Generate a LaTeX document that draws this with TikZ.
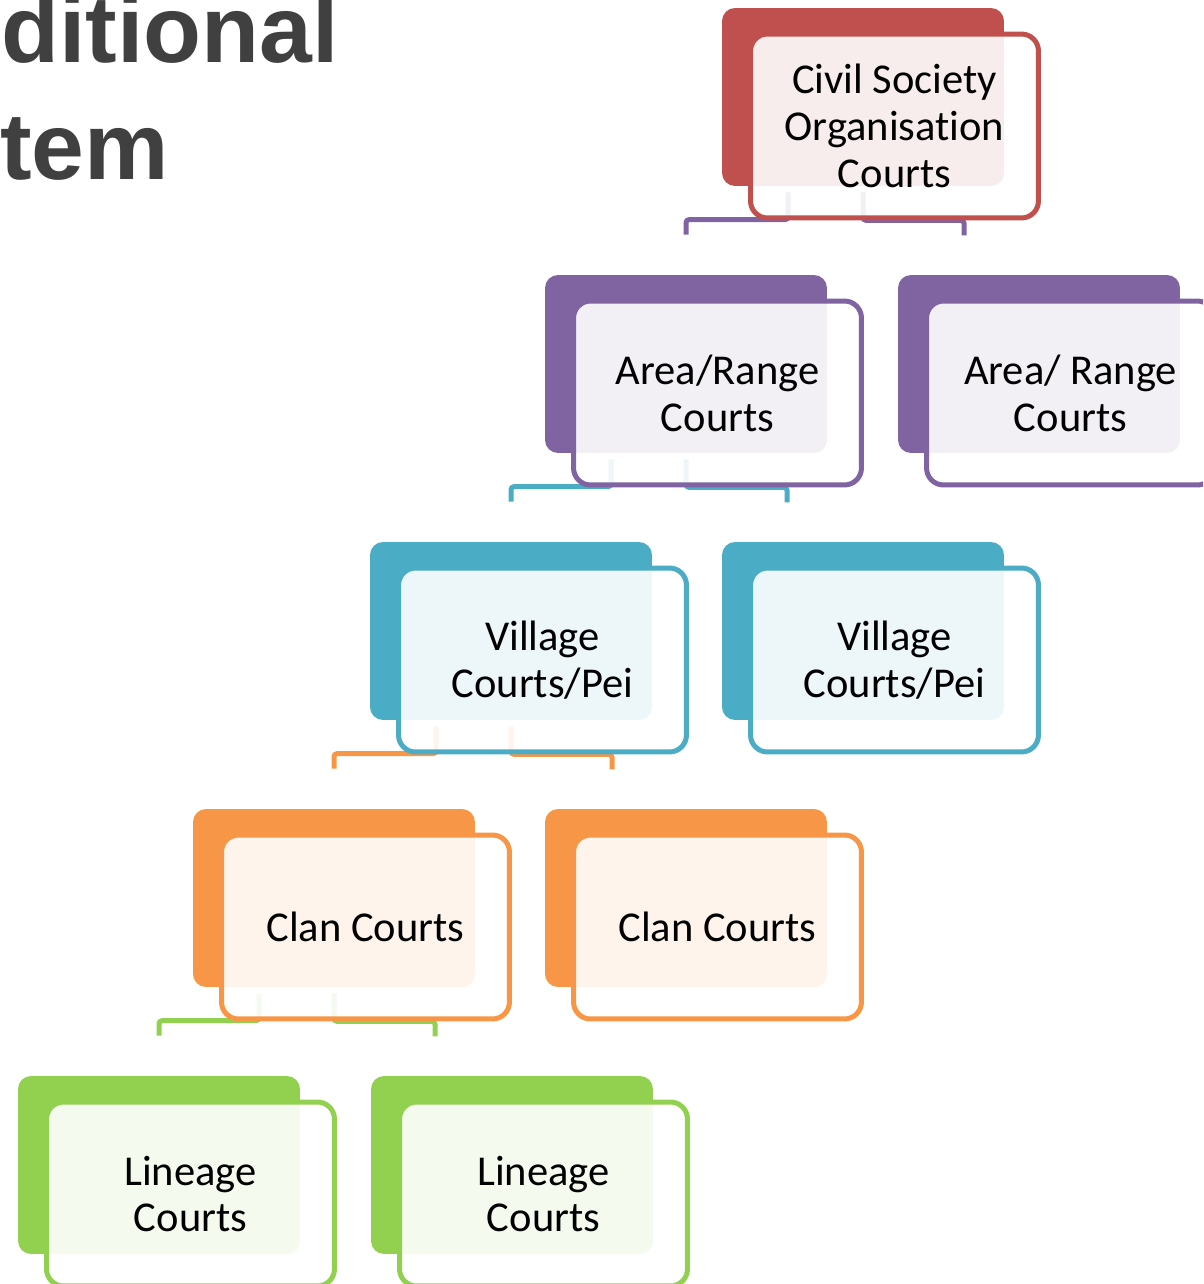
\documentclass[tikz,border=0pt]{standalone}
\usepackage{fontspec}
\setmainfont[Ligatures=NoCommon]{Carlito}
\newfontfamily\headfont{Liberation Sans}
\usetikzlibrary{calc}
\definecolor{cRed}{HTML}{C0504D}
\definecolor{cPurple}{HTML}{8064A2}
\definecolor{cTeal}{HTML}{4BACC6}
\definecolor{cOrange}{HTML}{F79646}
\definecolor{cGreen}{HTML}{92D050}
\definecolor{cHead}{HTML}{404040}

\begin{document}
\begin{tikzpicture}[x=0.02cm, y=-0.02cm,
    backbox/.style={rectangle, fill=#1, rounded corners=0.26cm, minimum width=5.64cm, minimum height=3.56cm, inner sep=0pt},
    frontbox/.style={rectangle, draw=#1, line width=0.1cm, fill=white, fill opacity=0.9, text opacity=1, rounded corners=0.34cm, minimum width=5.76cm, minimum height=3.68cm, inner sep=0pt, align=center, font=\fontsize{24.2}{26.7}\selectfont},
    joint/.style={draw=#1, line width=0.1cm, rounded corners=0.06cm},
    head/.style={anchor=base west, inner sep=0pt, text=cHead, font=\headfont\bfseries\fontsize{54}{60}\selectfont}]

    \useasboundingbox (0,0) rectangle (1203,1284);
    \clip (0,0) rectangle (1203,1284);

    % title, cut off by the frame
    \node(t1)[head] at (1,63) {ditional};
    \node(t2)[head] at (0,180) {tem};

    % back boxes
    \node(civB)[backbox=cRed] at (863,97) {};
    \node(ar1B)[backbox=cPurple] at (686,364) {};
    \node(ar2B)[backbox=cPurple] at (1039,364) {};
    \node(vc1B)[backbox=cTeal] at (511,631) {};
    \node(vc2B)[backbox=cTeal] at (863,631) {};
    \node(cc1B)[backbox=cOrange] at (334,898) {};
    \node(cc2B)[backbox=cOrange] at (686,898) {};
    \node(lc1B)[backbox=cGreen] at (159,1165) {};
    \node(lc2B)[backbox=cGreen] at (512,1165) {};

    % connectors
    \draw[joint=cPurple] ($(civB.south)+(-75,6)$) |- ($(ar1B.north)+(0,-55)$) -- ++(0,15);
    \draw[joint=cPurple] ($(civB.south)+(0,6)$) |- ++(101,28) -- ++(0,15);
    \draw[joint=cTeal] ($(ar1B.south)+(-75,6)$) |- ($(vc1B.north)+(0,-55)$) -- ++(0,15);
    \draw[joint=cTeal] ($(ar1B.south)+(0,6)$) |- ++(101,28) -- ++(0,15);
    \draw[joint=cOrange] ($(vc1B.south)+(-75,6)$) |- ($(cc1B.north)+(0,-55)$) -- ++(0,15);
    \draw[joint=cOrange] ($(vc1B.south)+(0,6)$) |- ++(101,28) -- ++(0,15);
    \draw[joint=cGreen] ($(cc1B.south)+(-75,6)$) |- ($(lc1B.north)+(0,-55)$) -- ++(0,15);
    \draw[joint=cGreen] ($(cc1B.south)+(0,6)$) |- ++(101,28) -- ++(0,15);

    % front boxes with the texts
    \node(civ)[frontbox=cRed] at ($(civB)+(31.5,29)$) {Civil Society\\Organisation\\Courts};
    \node(ar1)[frontbox=cPurple] at ($(ar1B)+(31.5,29)$) {Area/Range\\Courts};
    \node(ar2)[frontbox=cPurple] at ($(ar2B)+(31.5,29)$) {Area/ Range\\Courts};
    \node(vc1)[frontbox=cTeal] at ($(vc1B)+(31.5,29)$) {Village\\Courts/Pei};
    \node(vc2)[frontbox=cTeal] at ($(vc2B)+(31.5,29)$) {Village\\Courts/Pei};
    \node(cc1)[frontbox=cOrange] at ($(cc1B)+(31.5,29)$) {Clan Courts};
    \node(cc2)[frontbox=cOrange] at ($(cc2B)+(31.5,29)$) {Clan Courts};
    \node(lc1)[frontbox=cGreen] at ($(lc1B)+(31.5,29)$) {Lineage\\Courts};
    \node(lc2)[frontbox=cGreen] at ($(lc2B)+(31.5,29)$) {Lineage\\Courts};

\end{tikzpicture}
\end{document}
